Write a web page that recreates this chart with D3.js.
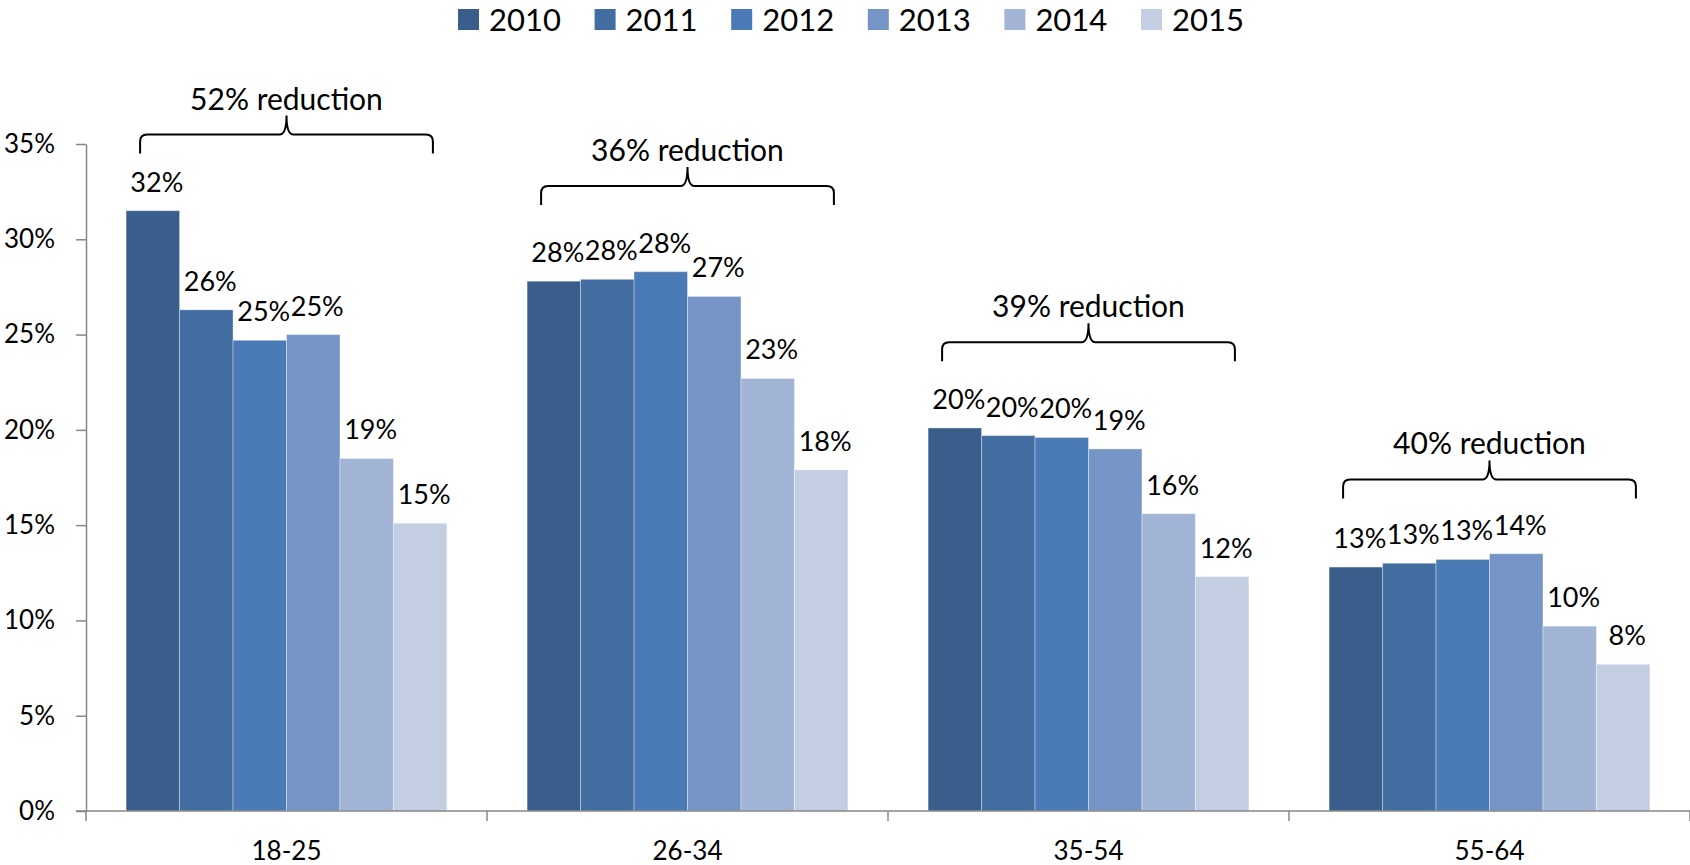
<!DOCTYPE html>
<html>
<head>
<meta charset="utf-8">
<script src="https://cdn.jsdelivr.net/npm/d3@7.9.0/dist/d3.min.js"></script>
<style>
  body { margin: 0; background: #fff; }
  svg { display: block; font-family: Lato, "Open Sans", sans-serif; }
  .axis path, .axis line { stroke: #878787; stroke-width: 1.5; }
  .axis text { font-size: 26px; fill: #000; font-family: Lato, sans-serif; }
</style>
</head>
<body>
<svg id="chart" width="1690" height="865"></svg>
<script>
// age groups along the x axis
const categories = ["18-25", "26-34", "35-54", "55-64"];
const years = ["2010", "2011", "2012", "2013", "2014", "2015"];

// share per year, one value per age group (percent)
const s2010 = [31.5, 27.8, 20.1, 12.8];
const s2011 = [26.3, 27.9, 19.7, 13.0];
const s2012 = [24.7, 28.3, 19.6, 13.2];
const s2013 = [25.0, 27.0, 19.0, 13.5];
const s2014 = [18.5, 22.7, 15.6, 9.7];
const s2015 = [15.1, 17.9, 12.3, 7.7];

const yTicks = [0, 5, 10, 15, 20, 25, 30, 35];
// level (percent) where the feet of each "reduction" brace sit
const braceLevels = [34.5, 31.8, 23.6, 16.4];

const colors = ["#3a5e8c", "#426da0", "#4a7bb6", "#7595c6", "#a2b4d6", "#c3cee3"];

const series = [s2010, s2011, s2012, s2013, s2014, s2015];

const svg = d3.select("#chart");
const W = 1690;

const y = d3.scaleLinear().domain([0, 35]).range([811, 144]);
const x0 = d3.scaleBand().domain(categories).range([86, W]).paddingInner(0.2).paddingOuter(0.1);
const x1 = d3.scaleBand().domain(years).range([0, x0.bandwidth()]);
const color = d3.scaleOrdinal().domain(years).range(colors);

// legend
const legendStep = 136.6;
const legendStart = 458;
const legend = svg.append("g");
years.forEach((yr, i) => {
  const lx = legendStart + i * legendStep;
  legend.append("rect")
    .attr("x", lx).attr("y", 9).attr("width", 21).attr("height", 21)
    .attr("fill", color(yr));
  legend.append("text")
    .attr("x", lx + 31).attr("y", 31)
    .attr("font-size", 31)
    .text(yr);
});

// y axis
const yAxis = svg.append("g")
  .attr("class", "axis")
  .attr("transform", "translate(86,0)")
  .call(d3.axisLeft(y).tickValues(yTicks).tickSize(10).tickSizeOuter(0).tickPadding(21)
    .tickFormat(d => d + "%"));

// bars
const groups = svg.append("g").selectAll("g")
  .data(categories)
  .join("g")
  .attr("transform", d => `translate(${x0(d)},0)`);

groups.each(function (cat, ci) {
  const g = d3.select(this);
  years.forEach((yr, si) => {
    const v = series[si][ci];
    g.append("rect")
      .attr("x", x1(yr))
      .attr("y", y(v))
      .attr("width", x1.bandwidth())
      .attr("height", y(0) - y(v))
      .attr("fill", color(yr))
      .attr("stroke", "rgba(255,255,255,0.35)")
      .attr("stroke-width", 1);
    g.append("text")
      .attr("x", x1(yr) + x1.bandwidth() / 2 + 4)
      .attr("y", y(v) - 19)
      .attr("text-anchor", "middle")
      .attr("font-size", 27)
      .text(Math.round(v) + "%");
  });
});

// x axis: baseline with category boundary ticks
const xAxis = svg.append("g").attr("class", "axis");
xAxis.append("line")
  .attr("x1", 76).attr("x2", W).attr("y1", y(0)).attr("y2", y(0));
d3.range(categories.length + 1).forEach(i => {
  const bx = 86 + i * x0.step();
  xAxis.append("line")
    .attr("x1", bx).attr("x2", bx).attr("y1", y(0)).attr("y2", y(0) + 10);
});
xAxis.selectAll("text.cat")
  .data(categories)
  .join("text")
  .attr("class", "cat")
  .attr("x", d => x0(d) + x0.bandwidth() / 2)
  .attr("y", 860)
  .attr("text-anchor", "middle")
  .text(d => d);

// reduction braces
const pct = d3.format(".0%");
const inset = 14, foot = 19, cusp = 19, r = 7;
categories.forEach((cat, ci) => {
  const first = series[0][ci];
  const last = series[series.length - 1][ci];
  const xa = x0(cat) + inset;
  const xb = x0(cat) + x0.bandwidth() - inset;
  const xc = (xa + xb) / 2;
  const yb = y(braceLevels[ci]);
  const yh = yb - foot;
  const yt = yh - cusp;

  const p = d3.path();
  p.moveTo(xa, yb);
  p.lineTo(xa, yh + r);
  p.quadraticCurveTo(xa, yh, xa + r, yh);
  p.lineTo(xc - r, yh);
  p.quadraticCurveTo(xc, yh, xc, yt);
  p.quadraticCurveTo(xc, yh, xc + r, yh);
  p.lineTo(xb - r, yh);
  p.quadraticCurveTo(xb, yh, xb, yh + r);
  p.lineTo(xb, yb);

  svg.append("path")
    .attr("d", p.toString())
    .attr("fill", "none")
    .attr("stroke", "#000")
    .attr("stroke-width", 2);

  svg.append("text")
    .attr("x", xc)
    .attr("y", yh - 25)
    .attr("text-anchor", "middle")
    .attr("font-size", 30)
    .text(pct((first - last) / first) + " reduction");
});
</script>
</body>
</html>
